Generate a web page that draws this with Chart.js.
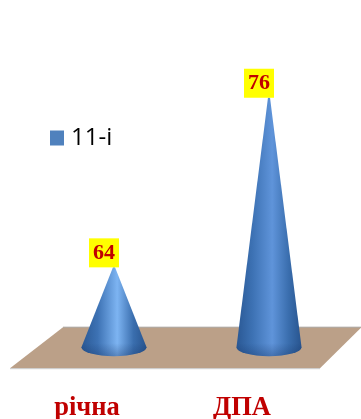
<!DOCTYPE html>
<html>
<head>
<meta charset="utf-8">
<style>
    html, body { margin: 0; padding: 0; background: #fff; overflow: hidden; }
    #chart-box { width: 361px; height: 419px; }
</style>
<script src="https://cdn.jsdelivr.net/npm/chart.js@4"></script>
</head>
<body>
<div id="chart-box"><canvas id="cone-chart" width="361" height="419"></canvas></div>
<script>
// Chart data
const categories = ['річна', 'ДПА'];
const seriesName = '11-і';
const seriesValues = [64, 76];

// Axis floor, the cones start here and not at zero
const axisMin = 58.35;
const axisMax = 81.5;

const blue = '#4f81bd';
const darkRed = '#c00000';

// Brown floor under the cones
const floorPlugin = {
    id: 'floor',
    beforeDatasetsDraw(chart) {
        const ctx = chart.ctx;
        const area = chart.chartArea;
        const baseY = area.bottom;
        ctx.save();
        ctx.beginPath();
        ctx.moveTo(area.left + 26.5, baseY - 20);
        ctx.lineTo(area.right + 15, baseY - 20);
        ctx.lineTo(area.right - 26.5, baseY + 21);
        ctx.lineTo(area.left - 26.5, baseY + 21);
        ctx.closePath();
        ctx.fillStyle = '#bba088';
        ctx.fill();
        // thin edges
        ctx.lineWidth = 1;
        ctx.strokeStyle = '#a8a39d';
        ctx.beginPath();
        ctx.moveTo(area.left + 26.5, baseY - 20);
        ctx.lineTo(area.right + 15, baseY - 20);
        ctx.stroke();
        ctx.strokeStyle = '#c9c9c9';
        ctx.beginPath();
        ctx.moveTo(area.left - 26.5, baseY + 21.5);
        ctx.lineTo(area.right - 26.5, baseY + 21.5);
        ctx.stroke();
        ctx.restore();
    }
};

// Each bar is redrawn as a cone, labels sit on the tip
const conePlugin = {
    id: 'cones',
    afterDatasetsDraw(chart) {
        const ctx = chart.ctx;
        const bars = chart.getDatasetMeta(0).data;
        bars.forEach((bar, i) => {
            const half = bar.width / 2;
            const ry = 9;
            const grad = ctx.createLinearGradient(bar.x - half, 0, bar.x + half, 0);
            grad.addColorStop(0, '#2a5894');
            grad.addColorStop(0.25, '#3d72b4');
            grad.addColorStop(0.55, i === 0 ? '#7db4f2' : '#5f94da');
            grad.addColorStop(0.8, '#3a6eae');
            grad.addColorStop(1, '#28548e');

            ctx.save();
            ctx.beginPath();
            ctx.moveTo(bar.x - 1, bar.y);
            ctx.lineTo(bar.x + 1, bar.y);
            ctx.lineTo(bar.x + half, bar.base);
            ctx.ellipse(bar.x, bar.base, half, ry, 0, 0, Math.PI);
            ctx.closePath();
            ctx.fillStyle = grad;
            ctx.fill();

            // darker rim along the bottom of the cone
            const rim = ctx.createLinearGradient(0, bar.base - 4, 0, bar.base + ry);
            rim.addColorStop(0, 'rgba(20,50,100,0)');
            rim.addColorStop(1, 'rgba(20,50,100,0.35)');
            ctx.fillStyle = rim;
            ctx.fill();
            ctx.restore();

            // value label
            const boxX = bar.x - 25;
            const boxY = bar.y - 29;
            ctx.save();
            ctx.fillStyle = '#ffff00';
            ctx.fillRect(boxX, boxY, 30, 29);
            ctx.fillStyle = darkRed;
            ctx.font = 'bold 22px "Liberation Serif"';
            ctx.textAlign = 'center';
            ctx.textBaseline = 'middle';
            ctx.fillText(String(seriesValues[i]), boxX + 15, boxY + 15);
            ctx.restore();
        });
    }
};

// Legend sits inside the plot, on the left
const legendPlacePlugin = {
    id: 'legendPlace',
    afterLayout(chart) {
        const legend = chart.legend;
        const w = legend.width;
        const h = legend.height;
        legend.left = 50;
        legend.top = 122;
        legend.right = 50 + w;
        legend.bottom = 122 + h;
    }
};

const ctx = document.getElementById('cone-chart').getContext('2d');
new Chart(ctx, {
    type: 'bar',
    data: {
        labels: categories,
        datasets: [{
            label: seriesName,
            data: seriesValues,
            base: axisMin,
            backgroundColor: 'rgba(0,0,0,0)',
            borderWidth: 0,
            categoryPercentage: 1,
            barPercentage: 0.42
        }]
    },
    plugins: [floorPlugin, conePlugin, legendPlacePlugin],
    options: {
        responsive: false,
        animation: false,
        layout: { padding: { left: 36.5, right: 14.5, top: 20, bottom: -42 } },
        plugins: {
            tooltip: { enabled: false },
            legend: {
                position: 'chartArea',
                align: 'start',
                labels: {
                    // small box with a fat stroke keeps the text close to the swatch
                    boxWidth: 5,
                    boxHeight: 5,
                    padding: 4,
                    color: '#111',
                    font: { family: '"Open Sans"', size: 24 },
                    generateLabels: (chart) => [{
                        text: seriesName,
                        fillStyle: blue,
                        strokeStyle: blue,
                        lineWidth: 10,
                        datasetIndex: 0
                    }]
                }
            }
        },
        scales: {
            x: {
                grid: { display: false },
                border: { display: false },
                ticks: {
                    color: darkRed,
                    labelOffset: -27,
                    padding: 37,
                    maxRotation: 0,
                    font: { family: '"Liberation Serif"', size: 26.5, weight: 'bold' }
                }
            },
            y: {
                display: false,
                min: axisMin,
                max: axisMax
            }
        }
    }
});
</script>
</body>
</html>
